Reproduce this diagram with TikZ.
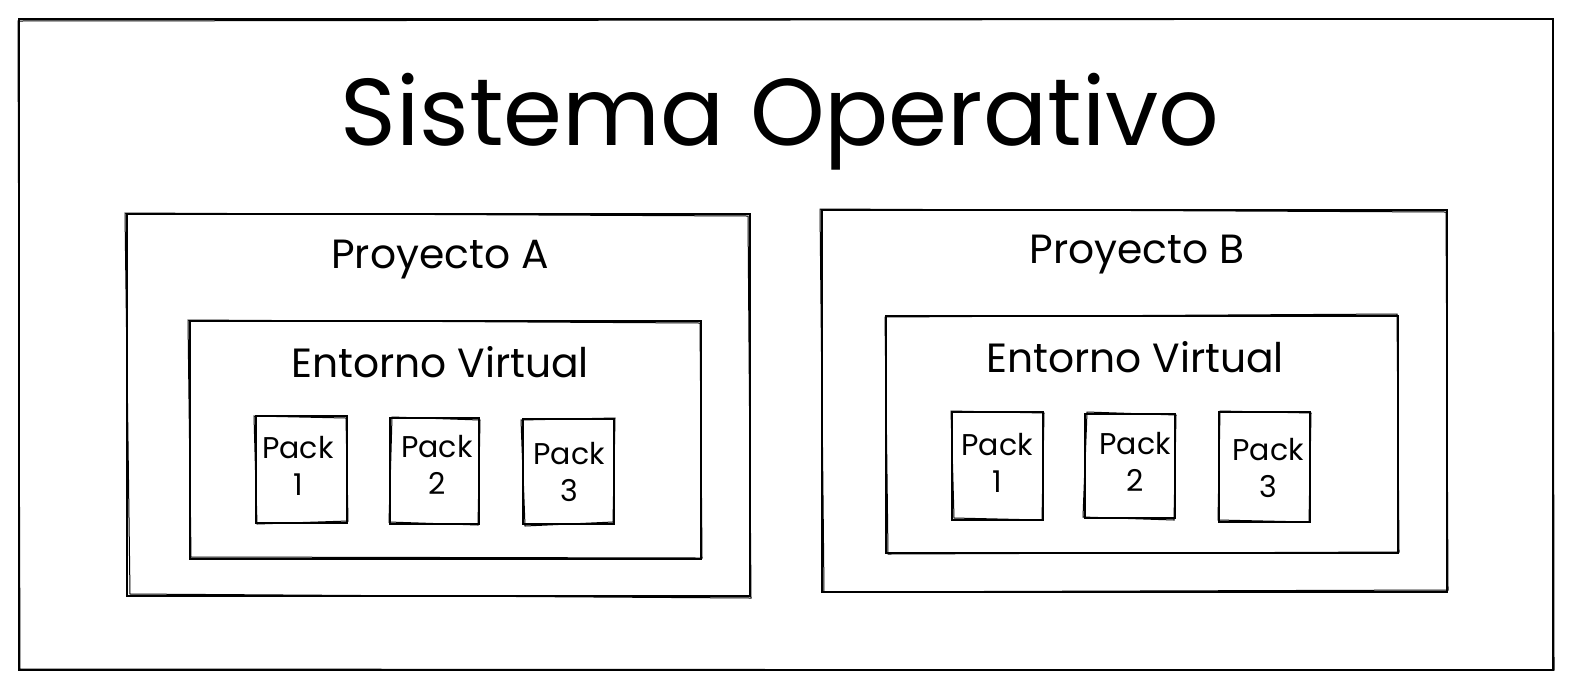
\documentclass[tikz,border=0pt]{standalone}
\usepackage{fontspec}
\setmainfont{Poppins}
\begin{document}
\begin{tikzpicture}[x=0.5pt,y=-0.5pt,
  box/.style={draw=black,line width=1.2pt,rectangle,inner sep=0pt},
  ghost/.style={draw=black,line width=0.5pt},
  titletxt/.style={font=\fontsize{47.5}{56}\selectfont,inner sep=0pt},
  projtxt/.style={font=\fontsize{20.4}{24}\selectfont,inner sep=0pt},
  packtxt/.style={font=\fontsize{15}{18.5}\selectfont,inner sep=0pt,align=center}]
\useasboundingbox (0,0) rectangle (1574,692);
% outer system box
\node[box,minimum width=767pt,minimum height=325.5pt] (so) at (786,344.5) {};
\draw[ghost] (18,21) -- (1553,19) -- (1554,670) -- (20,669) -- cycle;
\node[titletxt] (sot) at (780,122) {Sistema Operativo};
% project A
\node[box,minimum width=311.5pt,minimum height=191pt] (pa) at (438.5,405) {};
\draw[ghost] (125,213) -- (748,216) -- (751,598) -- (130,594) -- cycle;
\node[projtxt] (pat) at (440,260) {Proyecto A};
\node[box,minimum width=255.5pt,minimum height=119pt] (ea) at (445.5,440) {};
\draw[ghost] (188,320) -- (700,323) -- (702,558) -- (191,557) -- cycle;
\node[projtxt] (eat) at (440,362) {Entorno Virtual};
\node[box,minimum width=45.5pt,minimum height=53.5pt] (pa1) at (301.5,469.5) {};
\draw[ghost] (254,416) -- (346,418) -- (348,521) -- (257,524) -- cycle;
\node[packtxt] (pa1t) at (298,466) {Pack\\1};
\node[box,minimum width=44.5pt,minimum height=53pt] (pa2) at (434.5,471) {};
\draw[ghost] (392,417) -- (480,420) -- (478,525) -- (389,522) -- cycle;
\node[packtxt] (pa2t) at (437,465) {Pack\\2};
\node[box,minimum width=45.5pt,minimum height=52.5pt] (pa3) at (568.5,471.5) {};
\draw[ghost] (521,420) -- (615,418) -- (613,522) -- (525,526) -- cycle;
\node[packtxt] (pa3t) at (569,472) {Pack\\3};
% project B
\node[box,minimum width=312.5pt,minimum height=191pt] (pb) at (1134.5,401) {};
\draw[ghost] (820,209) -- (1446,212) -- (1448,590) -- (824,592) -- cycle;
\node[projtxt] (pbt) at (1137,255) {Proyecto B};
\node[box,minimum width=256pt,minimum height=118.5pt] (eb) at (1142,434.5) {};
\draw[ghost] (885,317) -- (1397,314) -- (1399,552) -- (888,554) -- cycle;
\node[projtxt] (ebt) at (1135,357) {Entorno Virtual};
\node[box,minimum width=45.5pt,minimum height=54pt] (pb1) at (997.5,466) {};
\draw[ghost] (951,411) -- (1044,413) -- (1042,520) -- (954,518) -- cycle;
\node[packtxt] (pb1t) at (997,463) {Pack\\1};
\node[box,minimum width=45pt,minimum height=52pt] (pb2) at (1130,466) {};
\draw[ghost] (1087,412) -- (1176,415) -- (1174,520) -- (1083,517) -- cycle;
\node[packtxt] (pb2t) at (1135,462) {Pack\\2};
\node[box,minimum width=45.5pt,minimum height=55pt] (pb3) at (1264.5,467) {};
\draw[ghost] (1220,411) -- (1311,413) -- (1309,522) -- (1218,520) -- cycle;
\node[packtxt] (pb3t) at (1268,468) {Pack\\3};
\end{tikzpicture}
\end{document}
